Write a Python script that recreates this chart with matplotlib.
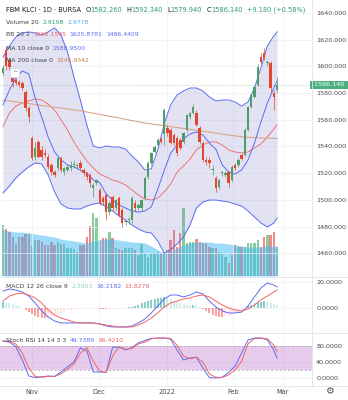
import numpy as np
import matplotlib
matplotlib.use("Agg")
import matplotlib.pyplot as plt

# daily candles FBM KLCI, mid Oct 2021 -> 24 Feb 2022 (index = trading day)
opens = [1595.1, 1612.0, 1604.8, 1591.3, 1589.8, 1588.3, 1587.6, 1580.8, 1568.8, 1546.4,
         1532.0, 1543.4, 1537.4, 1535.0, 1532.1, 1526.2, 1520.9, 1523.9, 1531.4, 1520.9,
         1522.4, 1523.9, 1526.2, 1525.5, 1527.7, 1522.4, 1520.2, 1518.7, 1508.9, 1512.7,
         1507.4, 1501.4, 1503.7, 1490.9, 1502.2, 1493.9, 1501.4, 1492.4, 1483.4, 1484.9,
         1484.9, 1497.7, 1493.9, 1493.9, 1501.4, 1517.2, 1527.7, 1536.0, 1541.1, 1545.6,
         1549.0, 1553.9, 1552.4, 1548.6, 1546.4, 1544.9, 1543.4, 1552.4, 1562.1, 1565.1,
         1565.1, 1553.9, 1542.6, 1529.9, 1529.9, 1522.4, 1516.4, 1509.7, 1520.2, 1518.7,
         1520.9, 1514.9, 1526.2, 1526.2, 1533.6, 1533.6, 1552.4, 1569.6, 1577.1, 1586.1,
         1607.0, 1610.0, 1602.5, 1602.5, 1580.1, 1582.26]
highs = [1601.0, 1614.5, 1606.0, 1593.5, 1591.5, 1590.0, 1589.0, 1582.5, 1570.0, 1547.5,
         1543.0, 1545.0, 1540.0, 1538.0, 1534.0, 1527.5, 1522.5, 1533.0, 1533.0, 1525.0,
         1527.0, 1529.0, 1530.0, 1528.0, 1530.0, 1524.0, 1521.0, 1520.0, 1513.0, 1516.0,
         1509.0, 1503.0, 1505.0, 1499.0, 1503.5, 1501.0, 1503.0, 1494.0, 1486.0, 1487.0,
         1503.0, 1500.0, 1498.0, 1501.0, 1518.0, 1529.0, 1536.0, 1541.0, 1546.0, 1547.0,
         1569.0, 1556.0, 1554.0, 1550.0, 1548.0, 1546.0, 1551.0, 1564.5, 1566.0, 1572.0,
         1567.0, 1555.0, 1544.0, 1532.0, 1532.0, 1526.0, 1518.0, 1516.0, 1522.0, 1521.5,
         1522.0, 1526.0, 1527.5, 1531.0, 1535.0, 1553.5, 1570.5, 1579.5, 1585.5, 1602.0,
         1610.0, 1613.5, 1605.0, 1604.0, 1582.0, 1592.34]
lows = [1593.0, 1597.5, 1597.5, 1584.5, 1586.0, 1584.5, 1582.0, 1566.5, 1558.5, 1529.5,
        1530.0, 1531.0, 1530.0, 1532.0, 1523.0, 1519.0, 1517.0, 1522.0, 1521.0, 1519.0,
        1521.0, 1522.0, 1524.0, 1523.0, 1522.0, 1518.0, 1515.0, 1510.0, 1502.0, 1511.0,
        1496.0, 1496.0, 1485.0, 1489.0, 1492.0, 1492.5, 1487.5, 1480.0, 1481.0, 1482.0,
        1483.0, 1492.0, 1492.5, 1492.0, 1500.0, 1516.0, 1526.5, 1535.0, 1540.0, 1542.0,
        1541.0, 1548.0, 1541.5, 1541.0, 1533.0, 1537.5, 1542.0, 1551.0, 1560.5, 1564.0,
        1555.0, 1542.0, 1528.5, 1526.5, 1524.0, 1519.0, 1506.0, 1508.0, 1518.0, 1517.0,
        1510.0, 1513.5, 1522.5, 1525.0, 1529.5, 1532.5, 1551.5, 1568.5, 1576.0, 1585.0,
        1602.0, 1605.0, 1600.0, 1581.0, 1567.5, 1579.94]
closes = [1598.8, 1600.0, 1599.6, 1588.3, 1587.6, 1586.1, 1583.8, 1568.8, 1562.1, 1531.4,
          1538.9, 1532.1, 1532.1, 1533.6, 1524.7, 1520.9, 1518.7, 1531.4, 1522.4, 1523.9,
          1524.7, 1526.2, 1527.0, 1526.2, 1523.9, 1520.2, 1517.2, 1512.7, 1511.2, 1514.9,
          1497.7, 1498.4, 1490.9, 1497.7, 1493.9, 1499.9, 1488.7, 1482.7, 1484.2, 1485.5,
          1501.4, 1493.9, 1496.2, 1499.9, 1516.4, 1527.7, 1535.1, 1539.6, 1544.9, 1543.4,
          1567.3, 1550.1, 1542.6, 1542.6, 1535.1, 1538.9, 1550.1, 1563.6, 1565.1, 1569.6,
          1556.1, 1543.4, 1529.9, 1528.4, 1527.7, 1523.0, 1508.9, 1514.9, 1520.6, 1520.2,
          1512.7, 1524.7, 1523.9, 1529.9, 1530.6, 1552.4, 1569.6, 1578.6, 1584.6, 1599.6,
          1603.3, 1606.3, 1603.3, 1583.8, 1577.1, 1586.14]
volume = [5.06, 4.66, 4.36, 3.87, 3.17, 3.87, 3.87, 4.17, 4.17, 2.98,
          3.57, 3.57, 3.37, 3.08, 3.08, 3.37, 3.08, 3.37, 3.17, 3.17,
          2.78, 2.78, 2.68, 2.38, 3.08, 3.08, 3.87, 4.96, 6.25, 5.75,
          3.57, 3.77, 3.77, 4.36, 3.77, 2.78, 2.68, 2.58, 2.78, 2.78,
          2.78, 2.58, 2.08, 3.17, 2.28, 1.88, 2.28, 2.28, 2.38, 2.28,
          2.28, 2.58, 3.57, 4.56, 2.88, 4.27, 6.75, 3.27, 3.37, 3.37,
          3.67, 3.37, 3.27, 3.27, 2.88, 2.78, 2.78, 2.38, 2.28, 1.88,
          1.29, 2.08, 3.08, 2.88, 2.88, 2.88, 3.27, 3.27, 3.27, 3.57,
          2.88, 3.87, 4.07, 4.07, 4.36, 2.92]

# indicator lines, read every second bar
line_idx = list(range(0, 86, 2)) + [85]
bb_upper = [1607.0, 1615.3, 1622.0, 1625.0, 1625.8, 1625.0, 1623.5, 1625.8, 1628.8, 1623.5,
            1610.8, 1592.1, 1574.8, 1556.1, 1540.4, 1538.9, 1540.4, 1539.6, 1539.6, 1538.1,
            1532.9, 1528.4, 1522.4, 1523.2, 1537.4, 1556.9, 1571.1, 1578.6, 1581.6, 1583.8,
            1583.8, 1581.6, 1577.1, 1574.1, 1574.8, 1574.8, 1573.3, 1570.3, 1573.3, 1583.8,
            1598.8, 1615.3, 1622.8, 1625.88]
bb_basis = [1554.6, 1565.1, 1570.3, 1572.6, 1574.1, 1575.6, 1574.8, 1571.8, 1567.3, 1559.9,
            1552.4, 1543.4, 1535.9, 1529.1, 1523.9, 1519.4, 1517.2, 1514.9, 1513.4, 1511.2,
            1507.4, 1503.7, 1500.7, 1499.9, 1501.4, 1505.9, 1511.9, 1520.9, 1525.4, 1530.6,
            1537.4, 1541.1, 1543.4, 1543.4, 1541.1, 1537.4, 1535.9, 1535.1, 1535.9, 1538.9,
            1541.9, 1547.1, 1553.1, 1556.16]
bb_lower = [1505.2, 1510.4, 1516.4, 1520.9, 1524.7, 1527.7, 1526.9, 1518.7, 1505.9, 1496.9,
            1493.9, 1493.2, 1493.2, 1495.4, 1496.9, 1497.7, 1494.7, 1491.7, 1488.0, 1485.0,
            1481.2, 1478.2, 1476.0, 1475.2, 1469.2, 1460.2, 1462.5, 1467.0, 1472.2, 1481.2,
            1493.9, 1498.4, 1499.9, 1499.9, 1499.2, 1498.4, 1496.9, 1495.4, 1491.7, 1487.2,
            1482.7, 1479.7, 1482.7, 1486.44]
ma10 = [1571.1, 1582.3, 1591.3, 1596.6, 1594.3, 1576.0, 1562.1, 1547.0, 1535.9, 1529.9,
        1526.2, 1524.7, 1522.4, 1520.2, 1514.9, 1513.0, 1504.4, 1499.9, 1496.2, 1493.9,
        1491.7, 1490.9, 1491.7, 1494.7, 1508.0, 1522.0, 1535.0, 1541.0, 1545.6, 1549.4,
        1550.9, 1548.6, 1542.6, 1538.0, 1526.2, 1520.9, 1519.4, 1522.4, 1529.9, 1542.6,
        1558.4, 1572.6, 1583.8, 1588.95]
ma200 = [1574.7, 1574.1, 1573.4, 1572.7, 1572.1, 1571.4, 1570.7, 1570.1, 1569.4, 1568.8,
         1568.1, 1567.4, 1566.7, 1565.8, 1564.9, 1564.0, 1563.1, 1562.2, 1561.3, 1560.3,
         1559.4, 1558.5, 1557.6, 1556.9, 1556.2, 1555.5, 1554.8, 1554.2, 1553.5, 1552.8,
         1552.1, 1551.4, 1550.8, 1550.0, 1549.3, 1548.6, 1547.9, 1547.3, 1546.9, 1546.7,
         1546.4, 1546.2, 1546.0, 1545.93]
vol_ma = [4.56, 4.46, 4.36, 4.36, 4.27, 4.17, 4.07, 3.97, 3.87, 3.67,
          3.57, 3.47, 3.37, 3.27, 3.47, 3.57, 3.67, 3.67, 3.57, 3.47,
          3.37, 3.37, 3.27, 2.98, 2.58, 2.28, 2.48, 2.78, 3.08, 3.27,
          3.37, 3.37, 3.37, 3.27, 3.27, 3.17, 3.08, 2.98, 2.88, 2.88,
          2.88, 2.98, 2.98, 2.98]
macd = [13.1, 14.6, 13.8, 12.3, 9.2, 3.8, -2.3, -6.9, -10.0, -11.5,
        -11.5, -11.5, -11.5, -11.5, -11.5, -12.3, -13.8, -14.6, -14.6, -14.6,
        -13.8, -11.5, -8.5, -3.8, 1.5, 6.9, 10.0, 10.0, 8.5, 10.0,
        12.3, 10.8, 5.4, 0.8, -2.3, -3.8, -3.8, -3.1, 1.5, 8.5,
        15.4, 19.2, 17.7, 16.22]
macd_signal = [5.4, 9.2, 10.8, 11.5, 10.0, 7.7, 3.8, -1.5, -5.4, -7.7,
               -9.2, -10.8, -11.5, -11.5, -11.5, -12.3, -13.1, -13.8, -14.6, -14.6,
               -14.6, -13.1, -10.8, -7.7, -3.8, 0.8, 3.8, 5.4, 6.9, 7.7,
               9.2, 10.0, 8.5, 5.4, 2.3, 0.0, -1.5, -2.3, -0.8, 2.3,
               6.2, 9.2, 12.3, 13.83]
# histogram, every bar
macd_hist = [4.5, 4.2, 3.8, 3.0, 2.2, 1.2, 0.0, -1.5, -3.0, -4.5,
             -5.8, -6.8, -7.5, -7.8, -7.5, -6.8, -5.8, -4.8, -3.8, -3.0,
             -2.2, -1.5, -1.0, -0.6, -0.3, -0.1, 0.1, 0.0, -0.2, -0.3,
             -0.6, -0.8, -0.9, -0.7, -0.6, -0.3, -0.1, 0.0, 0.2, 0.6,
             1.0, 1.8, 2.6, 3.5, 4.4, 5.2, 6.0, 6.8, 7.4, 7.8,
             8.2, 7.6, 6.6, 5.6, 4.6, 3.6, 2.8, 2.4, 2.2, 2.4,
             2.0, 0.8, -0.8, -2.4, -3.8, -5.0, -6.0, -6.6, -6.8, -6.4,
             -5.8, -5.0, -4.2, -3.2, -2.0, -0.4, 1.2, 2.6, 3.6, 4.4,
             5.0, 5.2, 4.8, 4.0, 3.2, 2.39]
stoch_k = [92, 90, 78, 45, 5, 1, 3, 5, 4, 15,
           28, 40, 75, 68, 15, 15, 14, 77, 77, 70,
           76, 88, 94, 99, 100, 100, 97, 70, 45, 50,
           52, 25, 1, 0, 2, 14, 30, 62, 95, 100,
           100, 95, 70, 49.74]
stoch_d = [93, 92, 85, 62, 25, 4, 2, 4, 4, 10,
           22, 35, 62, 76, 42, 17, 14, 55, 78, 72,
           74, 85, 90, 98, 100, 100, 99, 82, 55, 48,
           52, 40, 10, 2, 1, 8, 20, 42, 85, 99,
           100, 98, 82, 66.42]

date_ticks = [9.0, 29.8, 50.9, 71.3, 86.8]
date_labels = ["Nov", "Dec", "2022", "Feb", "Mar"]
price_ticks = list(range(1460, 1641, 20))

UP, DOWN = "#4f9d69", "#e0472c"
BLUE, RED = "#5b6cf0", "#f06464"
GRID = "#eef0f5"
LBL = "#4a4a4a"

W, H = 348, 400
fig = plt.figure(figsize=(W / 100, H / 100), dpi=100)


def px_axes(x0, y0, x1, y1):
    return fig.add_axes([x0 / W, 1 - y1 / H, (x1 - x0) / W, (y1 - y0) / H])


ax = px_axes(0, 0, 312, 276)
axv = ax.twinx()
ax_m = px_axes(0, 277, 312, 332)
ax_s = px_axes(0, 333, 312, 385)
ax.set_zorder(2)
axv.set_zorder(1)
ax.patch.set_visible(False)

xmin, xmax = -0.93, 95.84
for a in (ax, ax_m, ax_s):
    a.set_xlim(xmin, xmax)
    a.set_xticks(date_ticks)
    a.yaxis.tick_right()
    a.tick_params(length=0, labelsize=4.6, labelcolor=LBL, pad=3)
    a.grid(color=GRID, lw=0.5)
    a.set_axisbelow(True)
    for s in a.spines.values():
        s.set_visible(False)
ax.set_xticklabels([])
ax_m.set_xticklabels([])
ax_s.set_xticklabels(date_labels)
ax_s.tick_params(axis="x", pad=3, labelsize=4.8)

# ---- price pane
idx = np.arange(len(closes))
o, h, l, c = map(np.array, (opens, highs, lows, closes))
up = c >= o
col = np.where(up, UP, DOWN)

axv.bar(idx, volume, width=0.72, color=np.where(up, "#86cd9c", "#f28a8a"), lw=0, zorder=1)
axv.fill_between(line_idx, vol_ma, color="#3fb8f5", alpha=0.5, lw=0, zorder=2)
axv.set_ylim(0, 27.4)
axv.set_yticks([])
for s in axv.spines.values():
    s.set_visible(False)

ax.fill_between(line_idx, bb_lower, bb_upper, color="#7e7fc8", alpha=0.22, lw=0, zorder=1)
ax.plot(line_idx, bb_upper, color=BLUE, lw=0.7, zorder=2)
ax.plot(line_idx, bb_lower, color=BLUE, lw=0.7, zorder=2)
ax.plot(line_idx, bb_basis, color=RED, lw=0.6, zorder=2)
ax.plot(line_idx, ma200, color="#d9a58a", lw=0.8, zorder=2)
ax.plot(line_idx, ma10, color=BLUE, lw=0.7, zorder=2)

ax.vlines(idx, l, h, colors=col, lw=0.5, zorder=4)
ax.bar(idx, np.maximum(np.abs(c - o), 0.35), bottom=np.minimum(o, c), width=0.74,
       color=col, lw=0, zorder=5)

ax.set_ylim(1443.0, 1649.7)
ax.set_yticks(price_ticks)
ax.set_yticklabels([f"{t:.3f}" for t in price_ticks])
ax.axhline(closes[-1], color=UP, lw=0.5, ls=(0, (1, 2)), alpha=0.7, zorder=3)
ax.text(1.0, closes[-1], f" {closes[-1]:.3f} ", transform=ax.get_yaxis_transform(),
        ha="left", va="center", fontsize=4.6, color="white", clip_on=False, zorder=20,
        bbox=dict(boxstyle="square,pad=0.25", fc="#4caf7d", ec="none"))

# ---- MACD pane
hist = np.array(macd_hist)
prev = np.r_[hist[0], hist[:-1]]
hcol = np.where(hist >= 0, np.where(hist >= prev, "#26a69a", "#b2dfdb"),
                np.where(hist > prev, "#ffcdd2", "#ff5252"))
ax_m.bar(idx, hist, width=0.6, color=hcol, alpha=0.55, lw=0)
ax_m.plot(line_idx, macd, color=BLUE, lw=0.7)
ax_m.plot(line_idx, macd_signal, color=RED, lw=0.7)
ax_m.set_ylim(-18.46, 23.85)
ax_m.set_yticks([0, 20])
ax_m.set_yticklabels(["0.0000", "20.0000"])

# ---- Stoch RSI pane
ax_s.axhspan(20, 80, color="#9c27b0", alpha=0.24, lw=0)
ax_s.axhline(80, color="#a0a3ab", lw=0.5, ls=(0, (3, 3)))
ax_s.axhline(20, color="#a0a3ab", lw=0.5, ls=(0, (3, 3)))
ax_s.plot(line_idx, stoch_k, color=BLUE, lw=0.7)
ax_s.plot(line_idx, stoch_d, color=RED, lw=0.7)
ax_s.set_ylim(-17.5, 112.5)
ax_s.set_yticks([0, 40, 80])
ax_s.set_yticklabels(["0.0000", "40.0000", "80.0000"])

# ---- overlay in pixel coordinates: separators, legends
ov = fig.add_axes([0, 0, 1, 1])
ov.set_zorder(10)
ov.set_xlim(0, W)
ov.set_ylim(H, 0)
ov.axis("off")
for yy in (276.5, 332.5, 385.5):
    ov.plot([0, W], [yy, yy], color="#e0e3eb", lw=0.6)
ov.plot([312, 312], [0, 385.5], color="#e0e3eb", lw=0.6)


def legend_row(y, parts, size=4.4):
    t = ov.text(6, y, parts[0][0], color=parts[0][1], fontsize=size, va="center", ha="left")
    for s, colr, gap in parts[1:]:
        t = ov.annotate(s, xy=(1, 0.5), xycoords=t, xytext=(gap, 0), textcoords="offset points",
                        va="center", ha="left", color=colr, fontsize=size)


DARK, NAME, GRN = "#131722", "#3c3f48", "#2f9c74"
legend_row(10, [("FBM KLCI · 1D · BURSA", DARK, 0), ("O", DARK, 3), ("1582.260", GRN, 0),
                ("H", DARK, 3), ("1592.340", GRN, 0), ("L", DARK, 3), ("1579.940", GRN, 0),
                ("C", DARK, 3), ("1586.140", GRN, 0), ("+9.180 (+0.58%)", GRN, 3)], size=4.75)
legend_row(23, [("Volume 20", NAME, 0), ("2.919B", GRN, 2.5), ("2.977B", "#57a9f0", 2.5)])
legend_row(35, [("BB 20 2", NAME, 0), ("1556.1595", RED, 2.5), ("1625.8781", BLUE, 2.5),
                ("1486.4409", BLUE, 2.5)])
legend_row(48, [("MA 10 close 0", NAME, 0), ("1588.9500", BLUE, 2.5)])
legend_row(61, [("MA 200 close 0", NAME, 0), ("1545.9342", "#c47e53", 2.5)])
legend_row(286, [("MACD 12 26 close 9", NAME, 0), ("2.3903", "#93d3cb", 2.5),
                 ("16.2182", BLUE, 2.5), ("13.8279", RED, 2.5)])
legend_row(341, [("Stoch RSI 14 14 3 3", NAME, 0), ("49.7389", BLUE, 2.5), ("66.4210", RED, 2.5)])

ov.text(15, 73, "^", fontsize=4.5, color="#555", ha="center", va="center",
        bbox=dict(boxstyle="round,pad=0.3", fc="white", ec="#d6d8de", lw=0.5))
ov.text(329, 391, "\u2699", fontsize=7, color="#555", ha="center", va="center")

fig.savefig("out.png", dpi=100)
